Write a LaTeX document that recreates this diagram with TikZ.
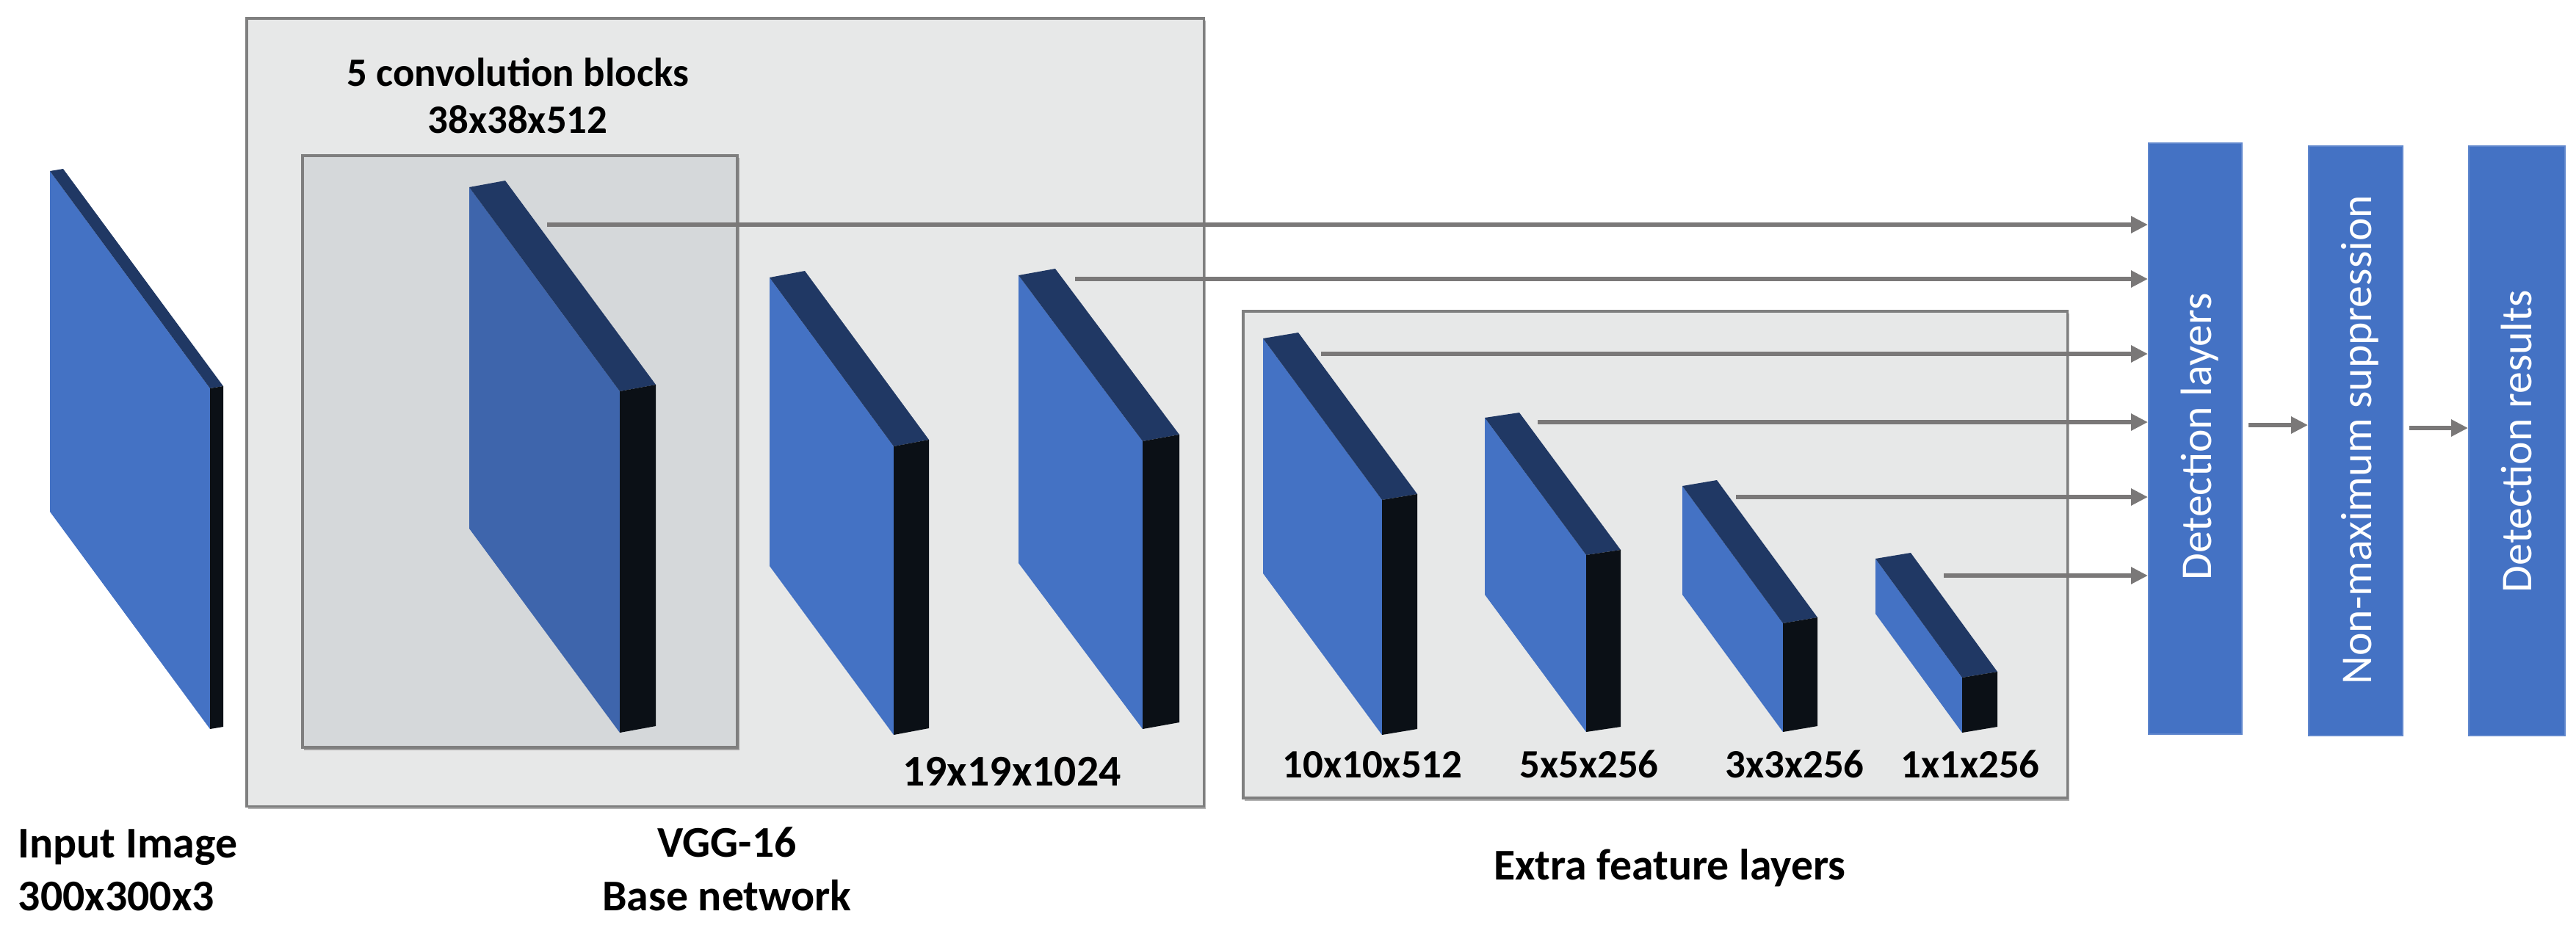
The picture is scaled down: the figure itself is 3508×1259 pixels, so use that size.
\documentclass[tikz,border=0pt]{standalone}
\usepackage{fontspec}
\setmainfont{Carlito}
\usetikzlibrary{arrows.meta,shadows}
\definecolor{slabblue}{HTML}{4472C4}
\definecolor{slabblueA}{HTML}{3E65AC}
\definecolor{slabtopc}{HTML}{203864}
\definecolor{slabsidec}{HTML}{0B1016}
\definecolor{outerfill}{HTML}{E7E8E8}
\definecolor{innerfill}{HTML}{D5D8DA}
\definecolor{boxborder}{HTML}{7F7F7F}
\definecolor{arrowgray}{HTML}{7A7878}
\definecolor{boxblue}{HTML}{4472C4}
% x1 y1 (front top-left), x2 y2 (front top-right), h, dx, dy(up), front colour
\newcommand{\drawslab}[8]{%
  \fill[#8] (#1,#2) -- (#3,#4) -- (#3,{#4+#5}) -- (#1,{#2+#5}) -- cycle;
  \fill[slabtopc] (#1,#2) -- ({#1+#6},{#2-#7}) -- ({#3+#6},{#4-#7}) -- (#3,#4) -- cycle;
  \fill[slabsidec] (#3,#4) -- ({#3+#6},{#4-#7}) -- ({#3+#6},{#4+#5-#7}) -- (#3,{#4+#5}) -- cycle;
}
\tikzset{
  greybox/.style={draw=boxborder, line width=0.035cm, fill=outerfill, anchor=north west, inner sep=0,
    drop shadow={shadow xshift=0.025cm, shadow yshift=-0.035cm, fill=black, opacity=0.3}},
  innerbox/.style={greybox, fill=innerfill},
  bluebox/.style={draw=boxblue!85!white, line width=0.02cm, fill=boxblue, anchor=north west, inner sep=0},
  boxtext/.style={text=white, rotate=90, anchor=base, inner sep=0, font=\fontsize{17pt}{20pt}\selectfont},
  smalllabel/.style={anchor=base, inner sep=0, font=\fontsize{15.6pt}{18pt}\selectfont\bfseries},
  biglabel/.style={anchor=base, inner sep=0, font=\fontsize{17pt}{20pt}\selectfont\bfseries},
  conn/.style={draw=arrowgray, line width=0.06cm, -{Triangle[length=0.23cm,width=0.22cm]}},
}
\begin{document}
\begin{tikzpicture}[x=0.01cm,y=-0.01cm]
\useasboundingbox (0,0) rectangle (3508,1259);
% grey frames
\node[greybox, minimum width=13.03cm, minimum height=10.73cm] (vgg) at (334,23) {};
\node[innerbox, minimum width=5.92cm, minimum height=8.06cm] (conv) at (410,210) {};
\node[greybox, minimum width=11.22cm, minimum height=6.63cm] (extra) at (1691,422) {};
% blue boxes
\node[bluebox, minimum width=1.27cm, minimum height=8.05cm] (det) at (2925,194) {};
\node[bluebox, minimum width=1.28cm, minimum height=8.03cm] (nms) at (3143,198) {};
\node[bluebox, minimum width=1.31cm, minimum height=8.03cm] (res) at (3361,198) {};
\node[boxtext] (detT) at (3011,595) {Detection layers};
\node[boxtext] (nmsT) at (3229,599) {Non-maximum suppression};
\node[boxtext] (resT) at (3447,601) {Detection results};
% slabs
\drawslab{68}{233}{286}{529}{464}{18}{3}{slabblue}
\drawslab{639}{255}{844}{533}{465}{49}{9}{slabblueA}
\drawslab{1048}{378}{1217}{608}{393}{48}{9}{slabblue}
\drawslab{1387}{375}{1556}{601}{392}{50}{9}{slabblue}
\drawslab{1720}{461}{1882}{681}{320}{48}{8}{slabblue}
\drawslab{2022}{569}{2160}{756}{241}{47}{7}{slabblue}
\drawslab{2291}{662}{2428}{849}{148}{47}{8}{slabblue}
\drawslab{2554}{761}{2672}{923}{75}{48}{8}{slabblue}
% connector start points
\coordinate (pA) at (745,306);
\coordinate (pC) at (1464,380);
\coordinate (pD) at (1799,482);
\coordinate (pE) at (2094,575);
\coordinate (pF) at (2364,677);
\coordinate (pG) at (2647,784);
\coordinate (pN) at (3062,579);
\coordinate (pR) at (3281,583);
\foreach \p in {pA,pC,pD,pE,pF,pG}{\draw[conn] (\p) -- (\p -| det.west);}
\draw[conn] (pN) -- (pN -| nms.west);
\draw[conn] (pR) -- (pR -| res.west);
% labels
\node[smalllabel] (l1) at (705,117) {5 convolution blocks};
\node[smalllabel] (l2) at (705,181) {38x38x512};
\node[biglabel] (l3) at (1378,1070) {19x19x1024};
\node[smalllabel] (l4) at (1869,1059) {10x10x512};
\node[smalllabel] (l5) at (2164,1059) {5x5x256};
\node[smalllabel] (l6) at (2444,1059) {3x3x256};
\node[smalllabel] (l7) at (2683,1059) {1x1x256};
\node[biglabel, anchor=base west] (l8) at (24,1168) {Input Image};
\node[biglabel, anchor=base west] (l9) at (24,1240) {300x300x3};
\node[biglabel] (l10) at (990,1167) {VGG-16};
\node[biglabel] (l11) at (990,1240) {Base network};
\node[biglabel] (l12) at (2274,1198) {Extra feature layers};
\end{tikzpicture}
\end{document}
